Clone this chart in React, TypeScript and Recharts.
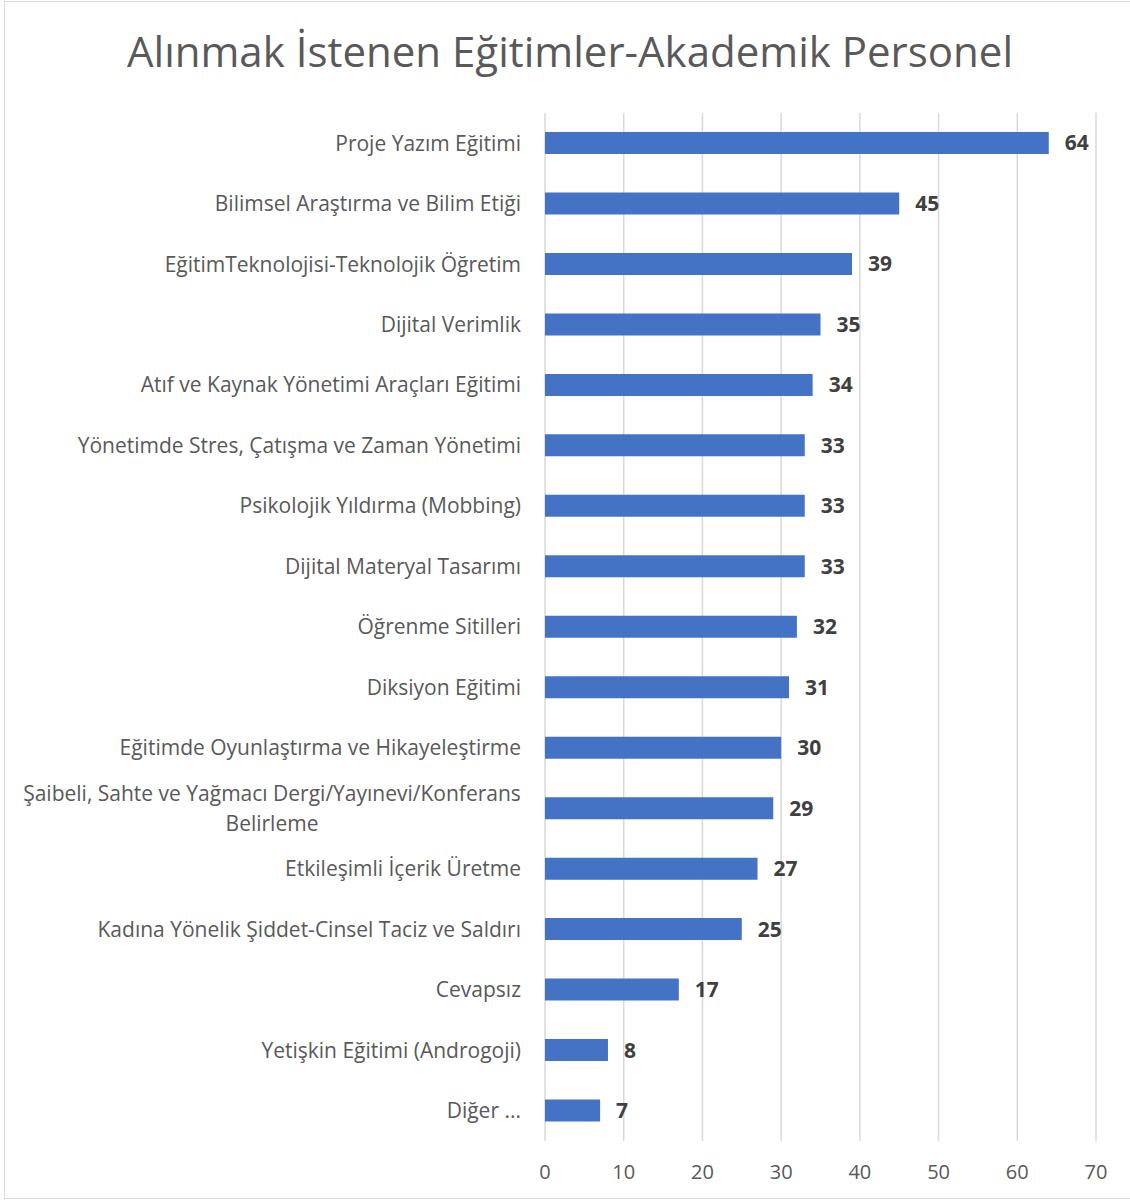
import { BarChart, Bar, XAxis, YAxis, CartesianGrid, LabelList } from 'recharts';

const categories = [
  'Proje Yazım Eğitimi',
  'Bilimsel Araştırma ve Bilim Etiği',
  'EğitimTeknolojisi-Teknolojik Öğretim',
  'Dijital Verimlik',
  'Atıf ve Kaynak Yönetimi Araçları Eğitimi',
  'Yönetimde Stres, Çatışma ve Zaman Yönetimi',
  'Psikolojik Yıldırma (Mobbing)',
  'Dijital Materyal Tasarımı',
  'Öğrenme Sitilleri',
  'Diksiyon Eğitimi',
  'Eğitimde Oyunlaştırma ve Hikayeleştirme',
  'Şaibeli, Sahte ve Yağmacı Dergi/Yayınevi/Konferans Belirleme',
  'Etkileşimli İçerik Üretme',
  'Kadına Yönelik Şiddet-Cinsel Taciz ve Saldırı',
  'Cevapsız',
  'Yetişkin Eğitimi (Androgoji)',
  'Diğer ...',
];

const counts = [64, 45, 39, 35, 34, 33, 33, 33, 32, 31, 30, 29, 27, 25, 17, 8, 7];

const xTicks = [0, 10, 20, 30, 40, 50, 60, 70];

const data = categories.map((name, i) => ({ name, count: counts[i] }));

const FONT = '"Open Sans", sans-serif';

// word wrap long category names, like excel does
function wrap(text: string, max: number) {
  const words = text.split(' ');
  const lines: string[] = [];
  let cur = '';
  for (const w of words) {
    if (cur && (cur + ' ' + w).length > max) {
      lines.push(cur);
      cur = w;
    } else {
      cur = cur ? cur + ' ' + w : w;
    }
  }
  if (cur) lines.push(cur);
  return lines;
}

function CategoryTick(props: any) {
  const { x, y, payload } = props;
  const lines = wrap(payload.value, 52);
  const lh = 30;
  const start = -((lines.length - 1) * lh) / 2;
  if (lines.length > 1) {
    // second line is centred under the first
    return (
      <g transform={`translate(${x},${y})`}>
        <text textAnchor="middle" fill="#595959" fontSize={21} fontFamily={FONT}>
          {lines.map((l, i) => (
            <tspan key={i} x={-249} y={start + i * lh} dy="0.35em">
              {l}
            </tspan>
          ))}
        </text>
      </g>
    );
  }
  return (
    <text x={x} y={y} dy="0.35em" textAnchor="end" fill="#595959" fontSize={21} fontFamily={FONT}>
      {payload.value}
    </text>
  );
}

export default function App() {
  return (
    <div style={{ position: 'absolute', left: 0, top: 0, width: 1130, height: 1202, background: '#fff' }}>
      <div
        style={{
          position: 'absolute',
          left: 4,
          top: 1,
          width: 1130,
          height: 1198,
          border: '1.5px solid #d9d9d9',
          boxSizing: 'border-box',
        }}
      />
      <div
        style={{
          position: 'absolute',
          left: 0,
          top: 22,
          width: 1140,
          textAlign: 'center',
          fontFamily: FONT,
          fontSize: 42,
          color: '#595959',
        }}
      >
        Alınmak İstenen Eğitimler-Akademik Personel
      </div>
      <div style={{ position: 'absolute', left: 0, top: 0 }}>
        <BarChart
          width={1130}
          height={1202}
          data={data}
          layout="vertical"
          margin={{ top: 113, right: 34, bottom: 31, left: 0 }}
          barCategoryGap={0}
        >
          <CartesianGrid horizontal={false} stroke="#d9d9d9" strokeWidth={1.5} />
          <XAxis
            type="number"
            domain={[0, 70]}
            ticks={xTicks}
            axisLine={false}
            tickLine={false}
            tick={{ fill: '#595959', fontSize: 20, fontFamily: FONT }}
            tickMargin={18}
            interval={0}
          />
          <YAxis
            type="category"
            dataKey="name"
            width={545}
            axisLine={false}
            tickLine={false}
            tick={<CategoryTick />}
            tickMargin={18}
            interval={0}
          />
          <Bar dataKey="count" fill="#4472c4" barSize={22} isAnimationActive={false}>
            <LabelList
              dataKey="count"
              position="right"
              offset={16}
              fill="#404040"
              fontSize={21}
              fontWeight="bold"
              fontFamily={FONT}
            />
          </Bar>
        </BarChart>
      </div>
    </div>
  );
}
